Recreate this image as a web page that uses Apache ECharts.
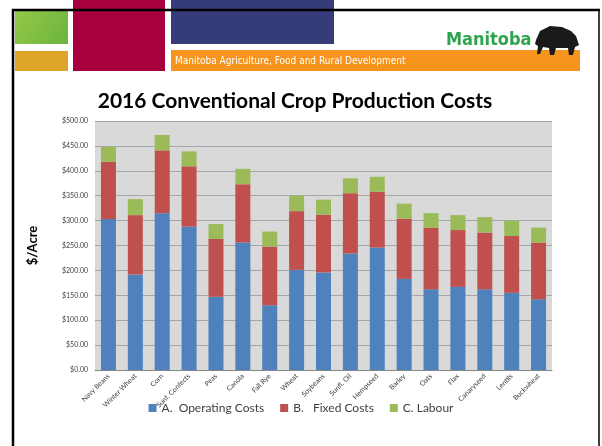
<!DOCTYPE html>
<html>
<head>
<meta charset="utf-8">
<script src="https://cdn.jsdelivr.net/npm/echarts@6/dist/echarts.min.js"></script>
<style>
html, body { margin: 0; padding: 0; background: #fff; }
#main { width: 602px; height: 446px; }
</style>
</head>
<body>
<div id="main"></div>
<script>
// crops along the x axis
var crops = ['Navy Beans', 'Winter Wheat', 'Corn', 'Sunf. Confects', 'Peas', 'Canola', 'Fall Rye', 'Wheat',
    'Soybeans', 'Sunfl. Oil', 'Hempseed', 'Barley', 'Oats', 'Flax', 'Canaryseed', 'Lentils', 'Buckwheat'];
// $/acre
var operatingCosts = [303, 192, 315, 288, 147, 256, 130, 201, 196, 234, 246, 183, 162, 167, 162, 155, 142];
var fixedCosts = [115, 119, 126, 121, 116, 117, 118, 118, 116, 121, 112, 121, 124, 114, 114, 114, 114];
var labour = [30, 32, 31, 30, 30, 31, 30, 31, 30, 30, 30, 30, 29, 30, 31, 31, 30];
var seriesNames = ['A.  Operating Costs', 'B.   Fixed Costs', 'C. Labour'];

var font = 'Lato, "Open Sans", sans-serif';
var myChart = echarts.init(document.getElementById('main'));

// slide decoration (header blocks, frame, logo)
var decor = [
    {type: 'rect', z: -1, shape: {x: 95, y: 121, width: 457, height: 249}, style: {fill: '#d9d9d9'}},
    {type: 'rect', shape: {x: 171, y: 0, width: 163, height: 44}, style: {fill: '#363b79'}},
    {type: 'rect', shape: {x: 73, y: 0, width: 92, height: 71}, style: {fill: '#a8003f'}},
    {type: 'rect', shape: {x: 15, y: 11, width: 53, height: 33}, style: {
        fill: new echarts.graphic.LinearGradient(0, 0, 1, 1, [
            {offset: 0, color: '#93c947'}, {offset: 1, color: '#6cb33f'}])
    }},
    {type: 'rect', shape: {x: 15, y: 51, width: 53, height: 20}, style: {fill: '#dea52a'}},
    {type: 'rect', shape: {x: 171, y: 50, width: 409, height: 21}, style: {fill: '#f7941e'}},
    {type: 'text', x: 175, y: 61, style: {
        text: 'Manitoba Agriculture, Food and Rural Development', fill: '#fff',
        font: '10px "Liberation Sans Narrow", "DejaVu Sans Condensed", sans-serif', verticalAlign: 'middle'
    }},
    {type: 'text', x: 446, y: 40, style: {
        text: 'Manitoba', fill: '#2ea44f', font: 'bold 18px "DejaVu Sans Condensed", sans-serif',
        verticalAlign: 'middle'
    }},
    // bison
    {type: 'polygon', shape: {points: [[536, 40], [540, 31], [550, 26], [562, 27], [571, 31], [576, 36],
        [579, 45], [575, 47], [573, 55], [569, 55], [568, 48], [556, 48], [554, 55], [550, 55], [549, 48],
        [543, 47], [540, 54], [537, 54], [538, 46], [535, 44]]}, style: {fill: '#1a1a1a'}},
    // frame
    {type: 'line', shape: {x1: 12, y1: 10, x2: 600, y2: 10}, style: {stroke: '#000', lineWidth: 2.5}},
    {type: 'line', shape: {x1: 13, y1: 9, x2: 13, y2: 446}, style: {stroke: '#000', lineWidth: 2.5}},
    {type: 'line', shape: {x1: 599, y1: 9, x2: 599, y2: 446}, style: {stroke: '#000', lineWidth: 1.5}},
    // chart title
    {type: 'text', x: 295, y: 101, style: {
        text: '2016 Conventional Crop Production Costs', fill: '#000',
        font: 'bold 21px ' + font, align: 'center', verticalAlign: 'middle'
    }}
];

var colors = ['#4f81bd', '#c0504d', '#9bbb59'];
var values = [operatingCosts, fixedCosts, labour];
var series = [];
for (var i = 0; i < values.length; i++) {
    series.push({
        name: seriesNames[i],
        type: 'bar',
        stack: 'cost',
        barWidth: 15,
        data: values[i],
        itemStyle: {color: colors[i]}
    });
}

var option = {
    animation: false,
    color: colors,
    graphic: decor,
    grid: {left: 95, right: 50, top: 121, bottom: 76},
    legend: {
        top: 397,
        left: 'center',
        itemWidth: 8,
        itemHeight: 8,
        itemGap: 16,
        icon: 'rect',
        textStyle: {fontFamily: font, fontSize: 12, color: '#404040'},
        data: seriesNames
    },
    xAxis: {
        type: 'category',
        data: crops,
        axisLine: {lineStyle: {color: '#868686'}},
        axisTick: {show: false},
        axisLabel: {rotate: 45, fontFamily: font, fontSize: 7, color: '#404040', margin: 5, interval: 0}
    },
    yAxis: {
        type: 'value',
        min: 0,
        max: 500,
        interval: 50,
        name: '$/Acre',
        nameLocation: 'middle',
        nameGap: 56,
        nameTextStyle: {fontFamily: font, fontSize: 13, fontWeight: 'bold', color: '#000'},
        axisLine: {show: false},
        axisTick: {show: false},
        splitLine: {lineStyle: {color: '#a6a6a6'}},
        axisLabel: {
            fontFamily: font, fontSize: 7, color: '#404040', margin: 7,
            formatter: function (v) { return '$' + v.toFixed(2); }
        }
    },
    series: series
};
myChart.setOption(option);
</script>
</body>
</html>
